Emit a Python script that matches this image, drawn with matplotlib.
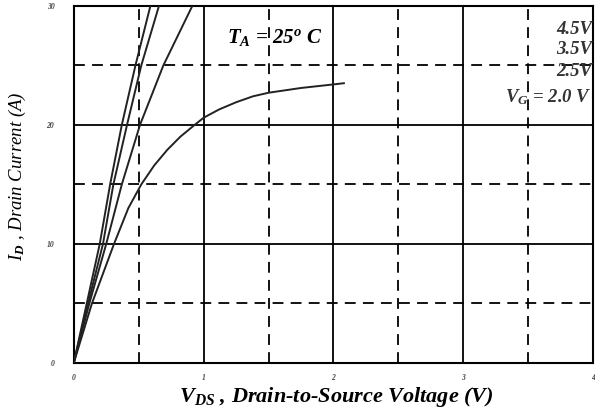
import matplotlib
matplotlib.use("Agg")
import matplotlib.pyplot as plt
import numpy as np

plt.rcParams["mathtext.fontset"] = "custom"
plt.rcParams["mathtext.it"] = "Liberation Serif:italic:bold"
plt.rcParams["mathtext.rm"] = "Liberation Serif:italic:bold"

# ---- data ----
vg_labels = ["4.5V", "3.5V", "2.5V", "V$_G$ = 2.0 V"]

vds_45 = [0, 0.10, 0.20, 0.28, 0.37, 0.475, 0.59]
id_45 = [0, 5, 10, 15, 20, 25, 30]

vds_35 = [0, 0.11, 0.225, 0.305, 0.41, 0.52, 0.656]
id_35 = [0, 5, 10, 15, 20, 25, 30]

vds_25 = [0, 0.12, 0.25, 0.37, 0.51, 0.69, 0.913]
id_25 = [0, 5, 10, 15, 20, 25, 30]

vds_20 = [0, 0.14, 0.31, 0.42, 0.52, 0.62, 0.72, 0.82, 0.92, 1.0, 1.12, 1.25, 1.38, 1.5, 1.75, 2.0, 2.08]
id_20 = [0, 5, 10, 13, 15, 16.6, 17.9, 19.0, 19.9, 20.6, 21.3, 21.9, 22.4, 22.7, 23.1, 23.4, 23.5]

x_ticks = [0, 1, 2, 3, 4]
y_ticks = [0, 10, 20, 30]

serif = "Liberation Serif"

fig = plt.figure(figsize=(5.95, 4.19), dpi=100)
ax = fig.add_axes([0.124, 0.134, 0.873, 0.852])

ax.set_xlim(0, 4)
ax.set_ylim(0, 30)

# grid: solid majors, dashed halves
for xv in [1, 2, 3]:
    ax.axvline(xv, color="black", lw=1.3, zorder=1)
for xv in [0.5, 1.5, 2.5, 3.5]:
    ax.axvline(xv, color="black", lw=1.3, ls=(0, (6, 4)), zorder=1)
for yv in [10, 20]:
    ax.axhline(yv, color="black", lw=1.3, zorder=1)
for yv in [5, 15, 25]:
    ax.axhline(yv, color="black", lw=1.3, ls=(0, (6, 4)), zorder=1)

for vx, iy in [(vds_45, id_45), (vds_35, id_35), (vds_25, id_25), (vds_20, id_20)]:
    ax.plot(vx, iy, color="#222222", lw=1.4, zorder=3)

for s in ax.spines.values():
    s.set_linewidth(1.5)
    s.set_color("black")

ax.set_xticks(x_ticks)
ax.set_yticks(y_ticks)
ax.tick_params(axis="x", length=0, pad=8)
ax.tick_params(axis="y", length=0, pad=14)
for lab in ax.get_xticklabels() + ax.get_yticklabels():
    lab.set_fontfamily(serif)
    lab.set_fontstyle("italic")
    lab.set_fontweight("bold")
    lab.set_fontsize(5.5)
    lab.set_color("#444444")

# annotations
ax.text(1.18, 27.3, "T$_A$ = 25$^o$ C", fontfamily=serif, fontstyle="italic",
        fontweight="bold", fontsize=15, ha="left", va="center")
label_y = [28.0, 26.3, 24.5, 22.3]
for lab, yy in zip(vg_labels, label_y):
    ax.text(3.99, yy, lab, fontfamily=serif, fontstyle="italic", fontweight="bold",
            fontsize=13.5, color="#333333", ha="right", va="center", clip_on=False)

fig.text(0.565, 0.052, "V$_{DS}$ , Drain-to-Source Voltage (V)", fontfamily=serif,
         fontstyle="italic", fontweight="bold", fontsize=16, ha="center", va="center")
fig.text(0.03, 0.58, "I$_D$ , Drain Current (A)", fontfamily=serif,
         fontstyle="italic", fontsize=13.5, rotation=90, ha="center", va="center")

fig.savefig("out.png", dpi=100)
